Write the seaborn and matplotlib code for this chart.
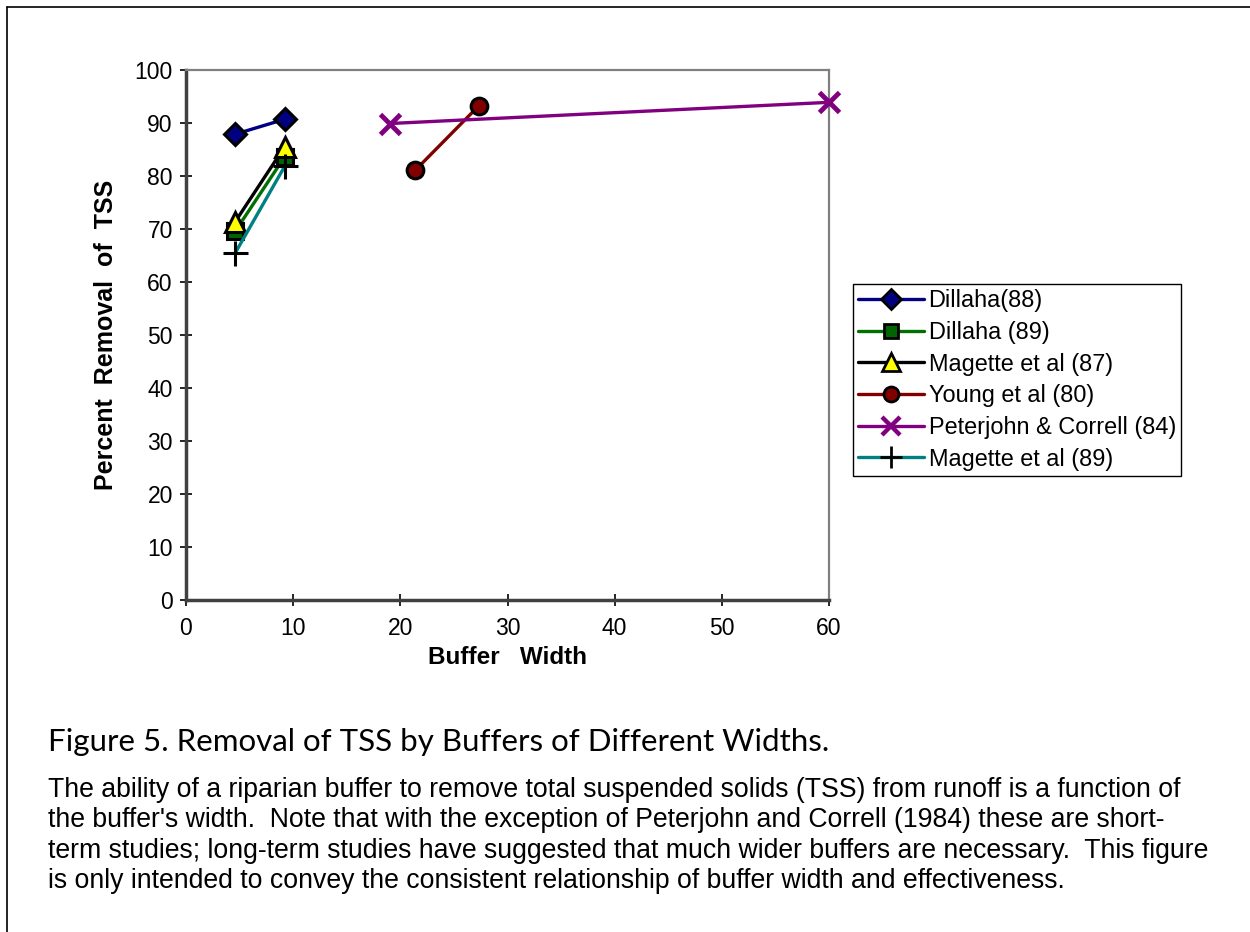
import matplotlib
matplotlib.use("Agg")
import matplotlib.pyplot as plt
import seaborn as sns
import pandas as pd
from matplotlib.lines import Line2D

# ---- data ----
series_names = ["Dillaha(88)", "Dillaha (89)", "Magette et al (87)",
                "Young et al (80)", "Peterjohn & Correll (84)", "Magette et al (89)"]
dillaha88_x = [4.6, 9.2]
dillaha88_y = [87.9, 90.7]
dillaha89_x = [4.6, 9.2]
dillaha89_y = [69.6, 83.6]
magette87_x = [4.6, 9.2]
magette87_y = [71.4, 85.5]
young80_x = [21.4, 27.3]
young80_y = [81.1, 93.2]
peterjohn84_x = [19.0, 60.0]
peterjohn84_y = [89.9, 93.9]
magette89_x = [4.6, 9.2]
magette89_y = [65.5, 81.8]
x_ticks = [0, 10, 20, 30, 40, 50, 60]
y_ticks = [0, 10, 20, 30, 40, 50, 60, 70, 80, 90, 100]

sns.set_theme(style="white")
plt.rcParams['font.family'] = ['Liberation Sans', 'DejaVu Sans']
plt.rcParams['text.color'] = 'black'
plt.rcParams['axes.labelcolor'] = 'black'

fig = plt.figure(figsize=(12.5, 9.32), dpi=100)
ax = fig.add_axes([186/1250, 1 - 600/932, (829-186)/1250, (600-70)/932])

styles = [
    dict(x=dillaha88_x, y=dillaha88_y, color="#000080", marker="D", mfc="#000080", mec="black", ms=11, mew=2.2),
    dict(x=dillaha89_x, y=dillaha89_y, color="#007000", marker="s", mfc="#006400", mec="black", ms=11, mew=2.2),
    dict(x=magette87_x, y=magette87_y, color="black", marker="^", mfc="#ffff00", mec="black", ms=14, mew=2.2),
    dict(x=young80_x, y=young80_y, color="#800000", marker="o", mfc="#800000", mec="black", ms=12, mew=2.2),
    dict(x=peterjohn84_x, y=peterjohn84_y, color="#800080", marker="x", mfc="#800080", mec="#800080", ms=14, mew=3.5),
    dict(x=magette89_x, y=magette89_y, color="#008080", marker="+", mfc="black", mec="black", ms=18, mew=2.2),
]

handles = []
for name, st in zip(series_names, styles):
    df = pd.DataFrame({"x": st["x"], "y": st["y"]})
    sns.lineplot(data=df, x="x", y="y", ax=ax, color=st["color"], lw=2.4,
                 marker=st["marker"], markerfacecolor=st["mfc"], markeredgecolor=st["mec"],
                 markersize=st["ms"], markeredgewidth=st["mew"], sort=False,
                 clip_on=False, zorder=3)
    handles.append(Line2D([], [], color=st["color"], lw=2.4, marker=st["marker"],
                          markerfacecolor=st["mfc"], markeredgecolor=st["mec"],
                          markersize=st["ms"]*0.9, markeredgewidth=st["mew"]*0.9))

ax.set_xlim(0, 60)
ax.set_ylim(0, 100)
ax.set_xticks(x_ticks)
ax.set_yticks(y_ticks)
ax.tick_params(axis="both", which="major", direction="inout", length=9, width=1.2,
               color="black", labelsize=16.5, labelcolor="black", bottom=True, left=True)
ax.tick_params(axis="x", pad=8)
ax.tick_params(axis="y", pad=5)

for side in ["top", "right"]:
    ax.spines[side].set_color("#808080")
    ax.spines[side].set_linewidth(1.6)
for side in ["left", "bottom"]:
    ax.spines[side].set_color("#404040")
    ax.spines[side].set_linewidth(2.5)

ax.set_xlabel("Buffer   Width", fontsize=17.5, fontweight="bold", labelpad=4)
ax.set_ylabel("Percent  Removal  of  TSS", fontsize=18, fontweight="bold", labelpad=12)
ax.grid(False)

leg = ax.legend(handles, series_names, loc="upper left",
                bbox_to_anchor=(853/1250, 1 - 284/932), bbox_transform=fig.transFigure,
                fontsize=16.9, frameon=True, fancybox=False, framealpha=1,
                edgecolor="black", borderpad=0.22, labelspacing=0.37,
                handlelength=2.8, handletextpad=0.2, borderaxespad=0)
leg.get_frame().set_linewidth(1.0)

# caption
fig.text(48/1250, 1 - 742/932, "Figure 5. Removal of TSS by Buffers of Different Widths.",
         fontsize=22.5, family=["Lato", "DejaVu Sans"], va="center", ha="left", color="black")
body = ("The ability of a riparian buffer to remove total suspended solids (TSS) from runoff is a function of\n"
        "the buffer's width.  Note that with the exception of Peterjohn and Correll (1984) these are short-\n"
        "term studies; long-term studies have suggested that much wider buffers are necessary.  This figure\n"
        "is only intended to convey the consistent relationship of buffer width and effectiveness.")
fig.text(48/1250, 1 - 777/932, body, fontsize=19.2, va="top", ha="left",
         linespacing=1.215, color="black")

# page border (top and left)
fig.add_artist(Line2D([7/1250, 7/1250], [0, 1 - 7/932], color="black", lw=1.2,
                      transform=fig.transFigure))
fig.add_artist(Line2D([7/1250, 1], [1 - 7/932, 1 - 7/932], color="black", lw=1.2,
                      transform=fig.transFigure))

fig.savefig("out.png", dpi=100, facecolor="white")
